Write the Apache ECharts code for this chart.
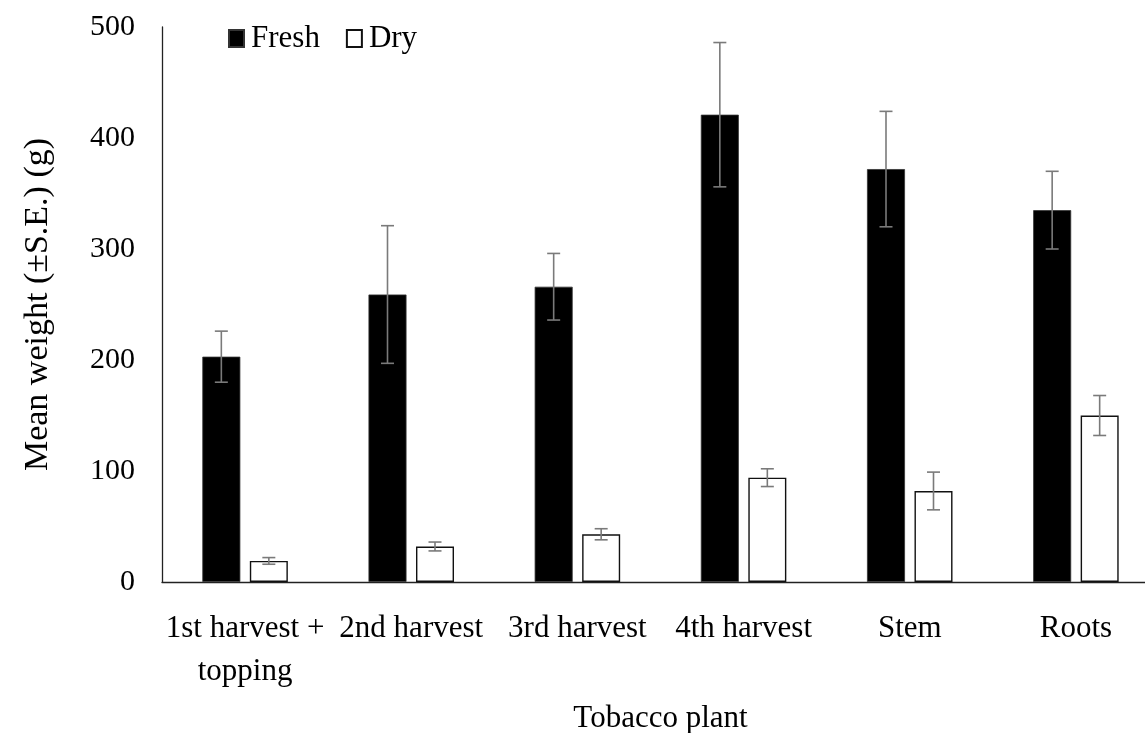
<!DOCTYPE html>
<html>
<head>
<meta charset="utf-8">
<script src="https://cdn.jsdelivr.net/npm/echarts@6/dist/echarts.min.js"></script>
<style>
  html, body { margin: 0; padding: 0; background: #fff; }
  #chart { width: 1145px; height: 733px; }
</style>
</head>
<body>
<div id="chart"></div>
<script>
// Mean fresh and dry weight per tobacco plant part, with standard errors
const categories = ['1st harvest +\ntopping', '2nd harvest', '3rd harvest', '4th harvest', 'Stem', 'Roots'];
const freshMean = [203, 259, 266, 421, 372, 335];
const freshSE = [23, 62, 30, 65, 52, 35];
const dryMean = [19, 32, 43, 94, 82, 150];
const drySE = [3, 4, 5, 8, 17, 18];
const yTicks = [0, 100, 200, 300, 400, 500];

const FONT = '"Liberation Serif", "Times New Roman", serif';
const BAR_W = 38;
const BAR_GAP = 0.25;          // fraction of bar width between the two bars
const HALF_STEP = (BAR_W + BAR_W * BAR_GAP) / 2;

function errorSeries(means, ses, offset) {
  return {
    type: 'custom',
    silent: true,
    z: 5,
    data: means.map((m, i) => [i, m - ses[i], m + ses[i]]),
    renderItem: function (params, api) {
      const lo = api.coord([api.value(0), api.value(1)]);
      const hi = api.coord([api.value(0), api.value(2)]);
      const x = lo[0] + offset;
      const cap = 6.5;
      const style = { stroke: '#7a7a7a', lineWidth: 1.6 };
      return {
        type: 'group',
        children: [
          { type: 'line', shape: { x1: x, y1: hi[1], x2: x, y2: lo[1] }, style: style },
          { type: 'line', shape: { x1: x - cap, y1: hi[1], x2: x + cap, y2: hi[1] }, style: style },
          { type: 'line', shape: { x1: x - cap, y1: lo[1], x2: x + cap, y2: lo[1] }, style: style }
        ]
      };
    }
  };
}

const chart = echarts.init(document.getElementById('chart'), null, { renderer: 'canvas' });
chart.setOption({
  animation: false,
  backgroundColor: '#ffffff',
  textStyle: { fontFamily: FONT, color: '#000' },
  legend: {
    data: [{ name: 'Fresh', icon: 'rect' }, { name: 'Dry', icon: 'rect' }],
    left: 223,
    top: 18,
    itemWidth: 15,
    itemHeight: 17,
    itemGap: 26,
    textStyle: { fontFamily: FONT, fontSize: 31, color: '#000', padding: [0, 0, 0, 2] }
  },
  grid: { left: 162, top: 27, width: 997, bottom: 151, containLabel: false, outerBoundsMode: 'none' },
  xAxis: {
    type: 'category',
    data: categories,
    name: 'Tobacco plant',
    nameLocation: 'middle',
    nameGap: 121,
    nameTextStyle: { fontFamily: FONT, fontSize: 31, color: '#000' },
    axisLine: { lineStyle: { color: '#222', width: 1.3 } },
    axisTick: { show: false },
    axisLabel: {
      fontFamily: FONT, fontSize: 31, color: '#000',
      lineHeight: 43, margin: 25, interval: 0
    },
    splitLine: { show: false }
  },
  yAxis: {
    type: 'value',
    min: yTicks[0],
    max: yTicks[yTicks.length - 1],
    interval: yTicks[1] - yTicks[0],
    name: 'Mean weight (±S.E.) (g)',
    nameLocation: 'middle',
    nameGap: 107,
    nameTextStyle: { fontFamily: FONT, fontSize: 34, color: '#000' },
    axisLine: { show: true, lineStyle: { color: '#222', width: 1.3 } },
    axisTick: { show: false },
    axisLabel: { fontFamily: FONT, fontSize: 30, color: '#000', margin: 27 },
    splitLine: { show: false }
  },
  series: [
    {
      name: 'Fresh',
      type: 'bar',
      data: freshMean,
      barWidth: BAR_W,
      barGap: (BAR_GAP * 100) + '%',
      itemStyle: { color: '#000', borderColor: '#333', borderWidth: 0.8 }
    },
    {
      name: 'Dry',
      type: 'bar',
      data: dryMean,
      barWidth: BAR_W,
      itemStyle: { color: '#fff', borderColor: '#111', borderWidth: 1.4 }
    },
    errorSeries(freshMean, freshSE, -HALF_STEP),
    errorSeries(dryMean, drySE, HALF_STEP)
  ]
});
</script>
</body>
</html>
